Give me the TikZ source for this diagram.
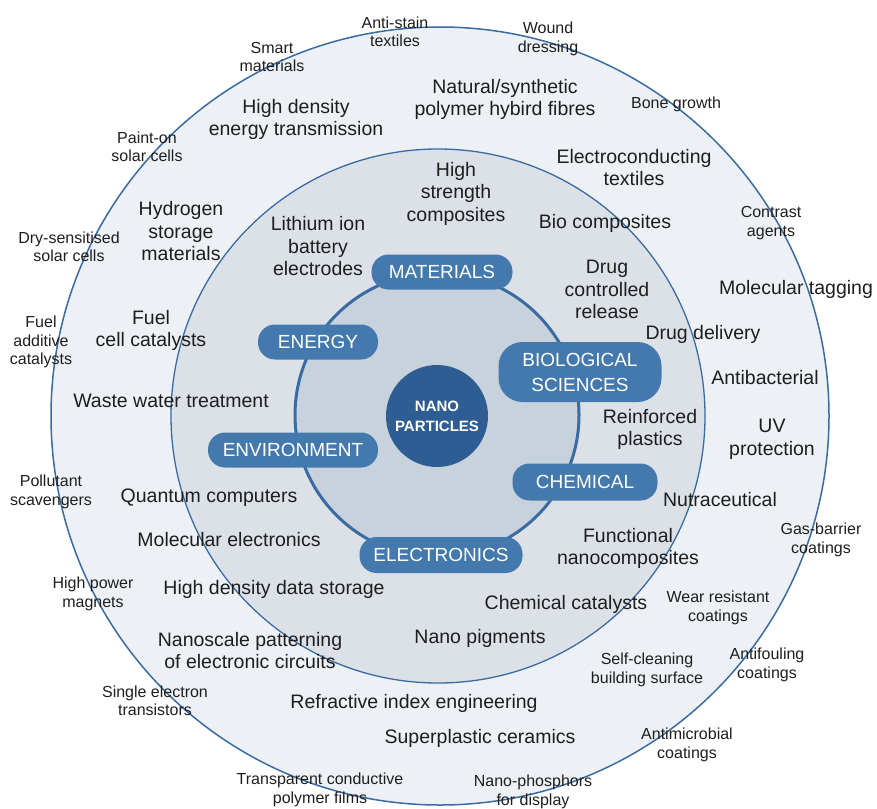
\documentclass[tikz,border=0pt]{standalone}
\usepackage{fontspec}
\setmainfont{Liberation Sans}
\usepackage{tikz}
\usetikzlibrary{arrows}

\definecolor{ringline}{HTML}{3A6BA2}
\definecolor{outerfill}{HTML}{EDF0F4}
\definecolor{midfill}{HTML}{DCE1E8}
\definecolor{innerfill}{HTML}{C8D2DC}
\definecolor{pillblue}{HTML}{4479AD}
\definecolor{hubblue}{HTML}{2D5D92}
\definecolor{inktext}{HTML}{1E1E1E}

\begin{document}
\begin{tikzpicture}[x=1pt,y=-1pt,
  big text/.style={align=center,text=inktext,inner sep=0pt,yshift=-1.5pt,font=\fontsize{19.5}{22.5}\selectfont},
  small text/.style={align=center,text=inktext,inner sep=0pt,yshift=-1pt,font=\fontsize{16}{18.5}\selectfont},
  pill node/.style={fill=pillblue,text=white,rounded corners=17pt,align=center,inner sep=0pt,
    minimum height=35pt,font=\fontsize{19}{25}\selectfont},
  hub node/.style={circle,fill=hubblue,text=white,align=center,minimum size=102pt,inner sep=0pt,
    font=\bfseries\fontsize{15}{20}\selectfont}]
  \useasboundingbox (0,0) rectangle (877,808);

  % rings
  \draw[ringline,line width=1.5pt,fill=outerfill] (440,416) circle (389pt);
  \draw[ringline,line width=1.3pt,fill=midfill] (438,416) circle (267pt);
  \draw[ringline,line width=3pt,fill=innerfill] (437,415) circle (142pt);

  \node[hub node] (hub) at (437,416) {NANO\\PARTICLES};

  % fields
  \node[pill node,minimum width=141pt] (materials) at (442,272) {MATERIALS};
  \node[pill node,minimum width=120pt] (energy) at (318,342) {ENERGY};
  \node[pill node,minimum width=163pt,minimum height=60pt,rounded corners=24pt] (bio) at (580,372) {BIOLOGICAL\\SCIENCES};
  \node[pill node,minimum width=170pt] (environment) at (293,450) {ENVIRONMENT};
  \node[pill node,minimum width=145pt,minimum height=37pt] (chemical) at (585,482) {CHEMICAL};
  \node[pill node,minimum width=163pt,minimum height=36pt] (electronics) at (441,555) {ELECTRONICS};

  % middle ring
  \node[big text] (strength) at (456,192) {High\\strength\\composites};
  \node[big text] (lithium) at (318,245) {Lithium ion\\battery\\electrodes};
  \node[big text] (biocomp) at (605,222) {Bio composites};
  \node[big text] (drugrel) at (607,288) {Drug\\controlled\\release};
  \node[big text] (reinforced) at (650,428) {Reinforced\\plastics};
  \node[big text] (quantum) at (209,496) {Quantum computers};
  \node[big text] (molelec) at (229,538) {Molecular electronics};
  \node[big text] (functional) at (628,547) {Functional\\nanocomposites};
  \node[big text] (datastore) at (274,588) {High density data storage};
  \node[big text] (chemcat) at (566,603) {Chemical catalysts};
  \node[big text] (patterning) at (250,649) {Nanoscale patterning\\of electronic circuits};
  \node[big text] (pigments) at (480,637) {Nano pigments};

  % outer ring
  \node[big text] (energytrans) at (296,118) {High density\\energy transmission};
  \node[big text] (fibres) at (505,98) {Natural/synthetic\\polymer hybird fibres};
  \node[big text] (electrotex) at (634,166) {Electroconducting\\textiles};
  \node[big text] (hydrogen) at (181,230) {Hydrogen\\storage\\materials};
  \node[big text] (fuelcell) at (151,329) {Fuel\\cell catalysts};
  \node[big text] (wastewater) at (171,399) {Waste water treatment};
  \node[big text] (tagging) at (796,288) {Molecular tagging};
  \node[big text] (drugdel) at (703,333) {Drug delivery};
  \node[big text] (antibact) at (765,376) {Antibacterial};
  \node[big text] (uv) at (772,438) {UV\\protection};
  \node[big text] (nutra) at (720,498) {Nutraceutical};
  \node[big text] (refractive) at (414,702) {Refractive index engineering};
  \node[big text] (superplastic) at (480,737) {Superplastic ceramics};

  % rim
  \node[small text] (antistain) at (395,31) {Anti-stain\\textiles};
  \node[small text] (wound) at (548,38) {Wound\\dressing};
  \node[small text] (smart) at (272,56) {Smart\\materials};
  \node[small text] (bone) at (676,103) {Bone growth};
  \node[small text] (painton) at (147,146) {Paint-on\\solar cells};
  \node[small text] (contrast) at (771,222) {Contrast\\agents};
  \node[small text] (drysens) at (69,246) {Dry-sensitised\\solar cells};
  \node[small text] (fueladd) at (41,341) {Fuel\\additive\\catalysts};
  \node[small text] (pollutant) at (51,491) {Pollutant\\scavengers};
  \node[small text] (gasbarrier) at (821,539) {Gas-barrier\\coatings};
  \node[small text] (magnets) at (93,593) {High power\\magnets};
  \node[small text] (wear) at (718,607) {Wear resistant\\coatings};
  \node[small text] (selfclean) at (647,669) {Self-cleaning\\building surface};
  \node[small text] (antifoul) at (767,664) {Antifouling\\coatings};
  \node[small text] (single) at (155,700) {Single electron\\transistors};
  \node[small text] (antimicro) at (687,744) {Antimicrobial\\coatings};
  \node[small text] (transparent) at (320,789) {Transparent conductive\\polymer films};
  \node[small text] (phosphors) at (533,791) {Nano-phosphors\\for display};
\end{tikzpicture}
\end{document}
